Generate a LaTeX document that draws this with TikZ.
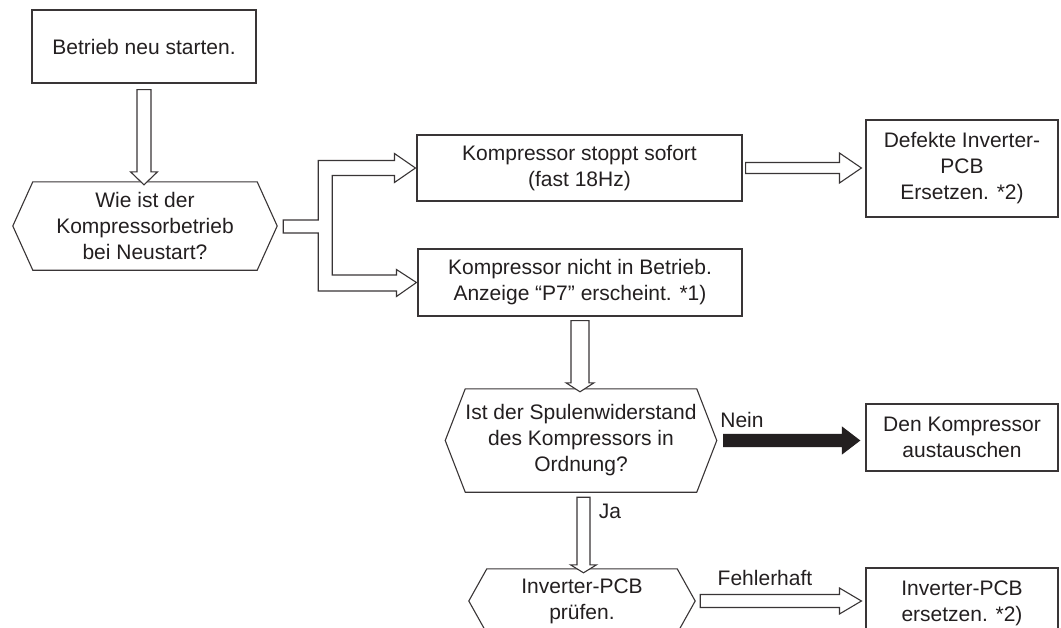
\documentclass[tikz,border=0pt]{standalone}
\usepackage{fontspec}
\setmainfont{Liberation Sans}
\usetikzlibrary{calc}

\definecolor{ink}{HTML}{231F20}

% hollow block arrow, downwards: [style]{from}{to}{shaft half}{head half}{head length}
\newcommand{\blockdown}[6][blockarrow]{%
	\draw[#1] let \p1=#2, \p2=#3 in
		(\x1-#4,\y1) -- (\x1+#4,\y1) -- (\x1+#4,\y2+#6) -- (\x1+#5,\y2+#6) -- (\x1,\y2)
		-- (\x1-#5,\y2+#6) -- (\x1-#4,\y2+#6) -- cycle;}
% the same, to the right
\newcommand{\blockright}[6][blockarrow]{%
	\draw[#1] let \p1=#2, \p2=#3 in
		(\x1,\y1+#4) -- (\x2-#6,\y1+#4) -- (\x2-#6,\y1+#5) -- (\x2,\y1) -- (\x2-#6,\y1-#5)
		-- (\x2-#6,\y1-#4) -- (\x1,\y1-#4) -- cycle;}
% pointed sides of a decision node
\newcommand{\hexframe}[2]{%
	\draw[line] (#1.north west) -- (#1.north east) -- ($(#1.east)+(#2,0)$) -- (#1.south east)
		-- (#1.south west) -- ($(#1.west)-(#2,0)$) -- cycle;}

\begin{document}
\begin{tikzpicture}[x=1pt,y=1pt,
		font=\fontsize{21}{26}\selectfont,
		line/.style={draw=ink!90,line width=1.1pt,line join=miter},
		box/.style={line,align=center,text=ink,inner sep=0pt},
		decision/.style={align=center,text=ink,inner sep=0pt},
		label/.style={text=ink,inner sep=0pt},
		blockarrow/.style={line,fill=white},
		solidarrow/.style={draw=ink,fill=ink,line width=1.1pt,line join=miter}]
	\clip (0,0) rectangle (1061,-627);
	\fill[white] (0,0) rectangle (1061,-627);
	%nodes
	\node[box,minimum width=224pt,minimum height=73pt] (start) at (144,-46.5) {Betrieb neu starten.};
	\node[decision,minimum width=224pt,minimum height=88pt] (q1) at (145,-226) {Wie ist der\\Kompressorbetrieb\\bei Neustart?};
	\node[box,minimum width=325pt,minimum height=66pt] (stopp) at (579.5,-168) {Kompressor stoppt sofort\\(fast 18Hz)};
	\node[box,minimum width=192pt,minimum height=97pt] (defekt) at (962,-168.5) {Defekte Inverter-\\PCB\\Ersetzen. *2)};
	\node[box,minimum width=324pt,minimum height=67pt] (aus) at (580,-282.5) {Kompressor nicht in Betrieb.\\Anzeige “P7” erscheint. *1)};
	\node[decision,minimum width=226pt,minimum height=103pt] (q2) at (581,-440.5) {Ist der Spulenwiderstand\\des Kompressors in\\Ordnung?};
	\node[box,minimum width=192pt,minimum height=67pt] (tausch) at (962,-437.5) {Den Kompressor\\austauschen};
	\node[decision,minimum width=190pt,minimum height=64pt] (q3) at (582,-601) {Inverter-PCB\\prüfen.};
	\node[box,minimum width=192pt,minimum height=70pt] (pcb) at (962,-603) {Inverter-PCB\\ersetzen. *2)};
	\hexframe{q1}{20}
	\hexframe{q2}{20}
	\hexframe{q3}{18}
	%labels
	\node[label] (nein) at (742,-420) {Nein};
	\node[label] (ja) at (610,-511) {Ja};
	\node[label] (fehler) at (765,-578) {Fehlerhaft};
	%arrows
	\blockdown{([yshift=-6pt]start.south)}{([yshift=-3pt]q1.north)}{7pt}{13.5pt}{13pt}
	\blockdown{([yshift=-4pt]aus.south)}{([yshift=-3pt]q2.north)}{9pt}{14pt}{9pt}
	\blockdown{([xshift=2.5pt,yshift=-5pt]q2.south)}{([yshift=-4pt]q3.north)}{6.5pt}{13pt}{8pt}
	\blockright{([xshift=3pt]stopp.east)}{([xshift=-4pt]defekt.west)}{5.5pt}{15pt}{22pt}
	\blockright{([xshift=23pt]q3.east)}{([xshift=-4pt]pcb.west)}{6.5pt}{13pt}{22pt}
	\blockright[solidarrow]{([xshift=27pt]q2.east)}{([xshift=-6pt]tausch.west)}{6pt}{13pt}{17pt}
	% fork to both outcomes
	\draw[blockarrow] let \p1=(q1.east), \p2=(stopp.west), \p3=(aus.west) in
		(\x1+26pt,\y1-7pt) -- (\x1+26pt,\y1+6pt) -- (\x1+61pt,\y1+6pt) -- (\x1+61pt,\y2+7.5pt)
		-- (\x2-22pt,\y2+7.5pt) -- (\x2-22pt,\y2+14.5pt) -- (\x2-1pt,\y2) -- (\x2-22pt,\y2-14.5pt)
		-- (\x2-22pt,\y2-7.5pt) -- (\x1+75pt,\y2-7.5pt) -- (\x1+75pt,\y3+7.5pt) -- (\x3-21pt,\y3+7.5pt)
		-- (\x3-21pt,\y3+13pt) -- (\x3-1pt,\y3) -- (\x3-21pt,\y3-14pt) -- (\x3-21pt,\y3-8.5pt)
		-- (\x1+61pt,\y3-8.5pt) -- (\x1+61pt,\y1-7pt) -- cycle;
\end{tikzpicture}
\end{document}
